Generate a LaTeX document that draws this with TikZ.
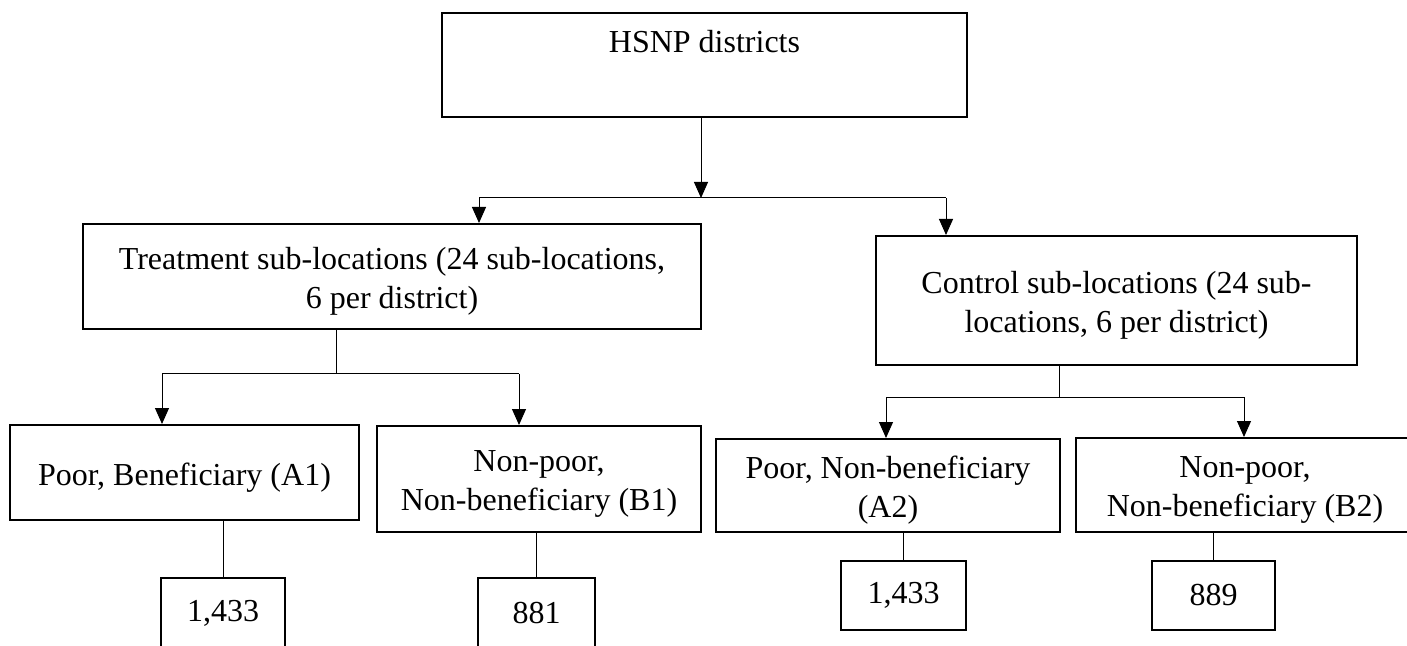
\documentclass[tikz,border=0pt]{standalone}
\usepackage{fontspec}
\setmainfont{Liberation Serif}
\usetikzlibrary{arrows.meta}

\begin{document}
\begin{tikzpicture}[x=0.5pt, y=-0.5pt,
  every node/.style={font=\fontsize{16pt}{19.5pt}\selectfont},
  box/.style={draw, line width=1pt, inner sep=0pt, align=center},
  tbox/.style={box, label={[align=center, yshift=-2.5pt]center:#1}},
  link/.style={line width=0.5pt},
  arrow/.style={link, -{Triangle[length=8pt, width=7pt]}}]
\clip (0, 0) rectangle (1407, 646);
% top level
\node [box, anchor=north, minimum width=262.5pt, text height=20pt, text depth=32pt] (hsnp) at (704.5, 12) {HSNP districts};
% sub-locations
\node [tbox={Treatment sub-locations (24 sub-locations,\\6 per district)}, minimum width=309pt, minimum height=52.5pt] (treat) at (392, 276.5) {};
\node [tbox={Control sub-locations (24 sub-\\locations, 6 per district)}, minimum width=240.5pt, minimum height=64.5pt] (ctrl) at (1116.5, 300.5) {};
% groups
\node [tbox={Poor, Beneficiary (A1)}, minimum width=174.5pt, minimum height=47.5pt] (pa1) at (184.5, 472.5) {};
\node [tbox={Non-poor,\\Non-beneficiary (B1)}, minimum width=162pt, minimum height=53pt] (nb1) at (539, 479) {};
\node [tbox={Poor, Non-beneficiary\\(A2)}, minimum width=172pt, minimum height=46.5pt] (pa2) at (888, 485.5) {};
\node [tbox={Non-poor,\\Non-beneficiary (B2)}, minimum width=169pt, minimum height=47pt] (nb2) at (1245, 485) {};
% sample sizes
\node [box, minimum width=62pt, minimum height=35pt] (na1) at (223, 613) {1,433};
\node [box, minimum width=58.5pt, minimum height=35pt] (nnb1) at (536.5, 613) {881};
\node [box, minimum width=62.5pt, minimum height=34.5pt] (na2) at (903.5, 595.5) {1,433};
\node [box, minimum width=61.5pt, minimum height=34.5pt] (nnb2) at (1213.5, 595.5) {889};
% split under HSNP
\coordinate (top) at (701, 198);
\coordinate (topl) at (479, 198);
\coordinate (topr) at (946, 198);
\draw [arrow] (hsnp.south -| top) -- (top);
\draw [link] (topl) -- (topr);
\draw [arrow] (topl) -- (topl |- treat.north);
\draw [arrow] (topr) -- (topr |- ctrl.north);
% split under treatment
\coordinate (tsplit) at (336, 374);
\coordinate (tleft) at (162, 374);
\coordinate (tright) at (519, 374);
\draw [link] (treat.south -| tsplit) -- (tsplit);
\draw [link] (tleft) -- (tright);
\draw [arrow] (tleft) -- (tleft |- pa1.north);
\draw [arrow] (tright) -- (tright |- nb1.north);
% split under control
\coordinate (csplit) at (1059, 397);
\coordinate (cleft) at (886, 397);
\coordinate (cright) at (1244, 397);
\draw [link] (ctrl.south -| csplit) -- (csplit);
\draw [link] (cleft) -- (cright);
\draw [arrow] (cleft) -- (cleft |- pa2.north);
\draw [arrow] (cright) -- (cright |- nb2.north);
% counts
\draw [link] (pa1.south -| na1.north) -- (na1.north);
\draw [link] (nb1.south -| nnb1.north) -- (nnb1.north);
\draw [link] (pa2.south -| na2.north) -- (na2.north);
\draw [link] (nb2.south -| nnb2.north) -- (nnb2.north);
\end{tikzpicture}
\end{document}
